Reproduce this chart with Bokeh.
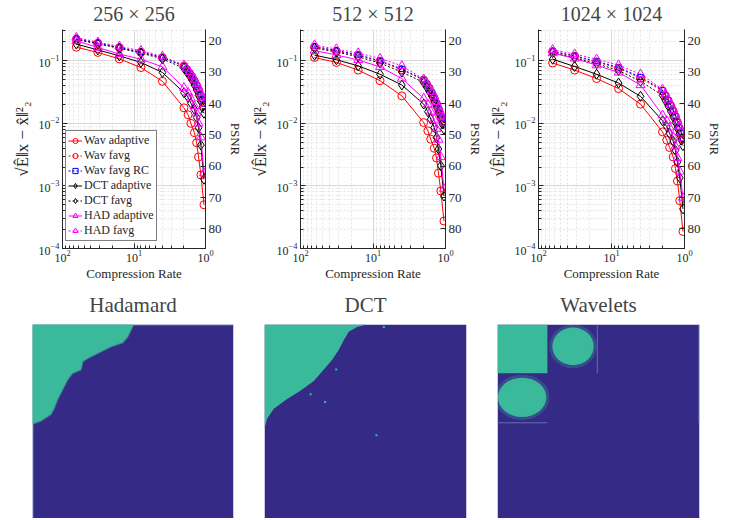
from bokeh.plotting import figure
from bokeh.models import Range1d, LinearAxis, FixedTicker, Legend, LegendItem, LinearScale, Title
from bokeh.layouts import row, column
from bokeh.embed import file_html
from bokeh.resources import INLINE

SERIF = "'Liberation Serif', 'Times New Roman', 'DejaVu Serif', serif"
AX = "#262626"
PURPLE = "#352a86"
TEAL = "#3bb99b"

# ---------------- data ----------------
cr_adaptive = [64, 32, 16, 8, 4, 2, 1.75, 1.6, 1.43, 1.33, 1.25, 1.16, 1.05]
cr_favg = [64, 32, 16, 8, 4, 2, 1.82, 1.67, 1.54, 1.43, 1.33, 1.25, 1.18, 1.11, 1.05]
psnr_ticks = [20, 30, 40, 50, 60, 70, 80]
top_titles = ["256 × 256", "512 × 512", "1024 × 1024"]

wav_adaptive_256 = [0.165, 0.136, 0.107, 0.078, 0.047, 0.0177, 0.0137, 0.0100, 0.0071, 0.0049, 0.0029, 0.0015, 0.0005]
wav_favg_256 = [0.220, 0.190, 0.162, 0.137, 0.112, 0.082, 0.072, 0.063, 0.055, 0.047, 0.040, 0.034, 0.028, 0.023, 0.019]
wav_favg_rc_256 = [0.225, 0.192, 0.163, 0.138, 0.113, 0.083, 0.073, 0.064, 0.056, 0.048, 0.041, 0.035, 0.029, 0.024, 0.0205]
dct_adaptive_256 = [0.185, 0.149, 0.120, 0.094, 0.065, 0.031, 0.026, 0.021, 0.0168, 0.0124, 0.0085, 0.0045, 0.00128]
dct_favg_256 = [0.218, 0.187, 0.158, 0.133, 0.107, 0.076, 0.066, 0.057, 0.049, 0.041, 0.034, 0.028, 0.023, 0.018, 0.0145]
had_adaptive_256 = [0.209, 0.163, 0.128, 0.106, 0.080, 0.037, 0.031, 0.025, 0.019, 0.0145, 0.010, 0.0060, 0.0016]
had_favg_256 = [0.235, 0.198, 0.170, 0.145, 0.118, 0.085, 0.075, 0.066, 0.058, 0.050, 0.043, 0.037, 0.031, 0.026, 0.021]

wav_adaptive_512 = [0.113, 0.094, 0.071, 0.048, 0.0275, 0.0103, 0.0076, 0.0056, 0.0040, 0.0028, 0.0016, 0.00083, 0.000275]
wav_favg_512 = [0.165, 0.142, 0.122, 0.098, 0.072, 0.049, 0.042, 0.036, 0.030, 0.025, 0.0205, 0.017, 0.014, 0.0117, 0.0098]
wav_favg_rc_512 = [0.170, 0.146, 0.125, 0.100, 0.074, 0.050, 0.043, 0.037, 0.031, 0.026, 0.021, 0.0175, 0.0145, 0.012, 0.0100]
dct_adaptive_512 = [0.123, 0.104, 0.083, 0.061, 0.041, 0.0203, 0.0153, 0.0117, 0.0086, 0.0059, 0.0039, 0.0021, 0.00069]
dct_favg_512 = [0.160, 0.138, 0.116, 0.092, 0.066, 0.045, 0.038, 0.032, 0.027, 0.022, 0.018, 0.0148, 0.012, 0.0098, 0.0081]
had_adaptive_512 = [0.145, 0.124, 0.103, 0.080, 0.052, 0.025, 0.020, 0.0155, 0.0115, 0.0082, 0.0055, 0.0029, 0.0009]
had_favg_512 = [0.178, 0.154, 0.133, 0.109, 0.083, 0.051, 0.044, 0.038, 0.032, 0.027, 0.022, 0.018, 0.0150, 0.0125, 0.0103]

wav_adaptive_1024 = [0.092, 0.071, 0.052, 0.036, 0.0203, 0.0073, 0.0054, 0.0041, 0.0029, 0.0019, 0.0012, 0.00058, 0.000187]
wav_favg_1024 = [0.140, 0.118, 0.096, 0.076, 0.053, 0.033, 0.0275, 0.023, 0.019, 0.0157, 0.0128, 0.0104, 0.0084, 0.0069, 0.0056]
wav_favg_rc_1024 = [0.142, 0.120, 0.098, 0.078, 0.055, 0.034, 0.028, 0.0235, 0.0195, 0.016, 0.013, 0.0106, 0.0086, 0.007, 0.0057]
dct_adaptive_1024 = [0.106, 0.081, 0.061, 0.044, 0.027, 0.011, 0.0089, 0.0069, 0.0052, 0.0037, 0.0024, 0.00135, 0.00043]
dct_favg_1024 = [0.135, 0.112, 0.090, 0.070, 0.047, 0.028, 0.023, 0.019, 0.0155, 0.0127, 0.0103, 0.0083, 0.0067, 0.0054, 0.0044]
had_adaptive_1024 = [0.133, 0.109, 0.085, 0.065, 0.041, 0.0135, 0.011, 0.0086, 0.0061, 0.0043, 0.0028, 0.0017, 0.00065]
had_favg_1024 = [0.150, 0.128, 0.106, 0.085, 0.061, 0.035, 0.029, 0.024, 0.020, 0.0165, 0.0135, 0.011, 0.0089, 0.0072, 0.0058]

series_labels = ["Wav adaptive", "Wav favg", "Wav favg RC", "DCT adaptive", "DCT favg", "HAD adaptive", "HAD favg"]

# image masks (normalised image coords, v downward)
img_titles = ["Hadamard", "DCT", "Wavelets"]
had_u = [0, 0.502, 0.489, 0.473, 0.448, 0.39, 0.323, 0.274, 0.249, 0.24, 0.199, 0.174, 0.149, 0.124, 0.108, 0.091, 0.066, 0.041, 0.017, 0]
had_v = [0, 0, 0.028, 0.061, 0.091, 0.111, 0.144, 0.169, 0.186, 0.227, 0.244, 0.277, 0.327, 0.376, 0.418, 0.451, 0.468, 0.484, 0.493, 0.5]
dct_u = [0, 0.508, 0.458, 0.417, 0.393, 0.368, 0.335, 0.294, 0.244, 0.178, 0.112, 0.046, 0.013, 0]
dct_v = [0, 0, 0.012, 0.036, 0.078, 0.127, 0.177, 0.226, 0.284, 0.333, 0.375, 0.424, 0.474, 0.523]
dct_speck_u = [0.355, 0.228, 0.554, 0.591, 0.30]
dct_speck_v = [0.226, 0.35, 0.556, 0.012, 0.39]
wav_block_u = [0.0, 0.247]
wav_block_v = [0.0, 0.245]
wav_blob_u = [0.374, 0.122]
wav_blob_v = [0.110, 0.366]
wav_blob_w = [0.205, 0.240]
wav_blob_h = [0.190, 0.198]
wav_line_u = [[0.494, 0.494], [0.0, 0.247], [0.997, 0.997]]
wav_line_v = [[0.0, 0.245], [0.494, 0.494], [0.0, 0.494]]

IMG_VIS = 0.975


def style_axis(ax, size="12px"):
    ax.axis_line_color = AX
    ax.major_tick_line_color = AX
    ax.minor_tick_line_color = AX
    ax.major_tick_in = 5
    ax.major_tick_out = 0
    ax.minor_tick_in = 3
    ax.minor_tick_out = 0
    ax.major_label_text_font = SERIF
    ax.major_label_text_font_size = size
    ax.major_label_text_color = AX
    ax.axis_label_text_font = SERIF
    ax.axis_label_text_font_size = "13px"
    ax.axis_label_text_font_style = "normal"
    ax.axis_label_text_color = AX


def set_title(p, text, size, spacer):
    # small blank spacer panel between frame and title lifts the title a little
    p.add_layout(Title(text=" ", text_font_size=spacer, standoff=0), "above")
    p.title.text = text
    p.title.align = "center"
    p.title.text_font = SERIF
    p.title.text_font_size = size
    p.title.text_font_style = "normal"
    p.title.standoff = 0


def make_top(i, width, lb, rb, data, legend=False):
    p = figure(width=width, height=290, x_axis_type="log", y_axis_type="log",
               x_range=Range1d(100, 1), y_range=Range1d(1e-4, 10 ** -0.5),
               toolbar_location=None, output_backend="svg",
               min_border_left=lb, min_border_right=rb, min_border_top=29, min_border_bottom=42)
    p.extra_y_ranges = {"psnr": Range1d(86.3, 16.3)}
    p.extra_y_scales = {"psnr": LinearScale()}
    rax = LinearAxis(y_range_name="psnr", ticker=FixedTicker(ticks=psnr_ticks), axis_label="PSNR")
    p.add_layout(rax, "right")
    set_title(p, top_titles[i], "20px", "3px")
    p.outline_line_color = None
    p.xaxis.axis_label = "Compression Rate"
    p.left[0].axis_label = "√Ê‖x − x̂‖²₂"
    for ax in [p.xaxis[0], p.left[0], rax]:
        style_axis(ax, "13px" if ax is rax else "12px")
    p.left[0].axis_label_text_font_size = "17px"
    rax.minor_tick_line_color = None
    p.xaxis.major_label_standoff = 1
    p.xaxis.axis_label_standoff = 1
    p.left[0].major_label_standoff = 3
    p.left[0].axis_label_standoff = 4
    rax.major_label_standoff = 3
    rax.axis_label_standoff = 3
    for g in [p.xgrid[0], p.ygrid[0]]:
        g.grid_line_color = "#d8d8d8"
        g.minor_grid_line_color = "#e4e4e4"
        g.minor_grid_line_dash = "2 2"

    specs = [
        (cr_adaptive, data[0], "red", "circle", 8, "solid"),
        (cr_favg, data[1], "red", "circle", 8, "2 2"),
        (cr_favg, data[2], "blue", "square", 5, "2 2"),
        (cr_adaptive, data[3], "black", "diamond", 10, "solid"),
        (cr_favg, data[4], "black", "diamond", 10, "2 2"),
        (cr_adaptive, data[5], "magenta", "triangle", 9, "solid"),
        (cr_favg, data[6], "magenta", "triangle", 9, "2 2"),
    ]
    items = []
    for (xs, ys, c, m, s, dash), lab in zip(specs, series_labels):
        ln = p.line(xs, ys, line_color=c, line_width=1, line_dash=dash)
        sc = p.scatter(xs, ys, marker=m, size=s, line_color=c, fill_alpha=0, line_width=1)
        items.append(LegendItem(label=lab, renderers=[ln, sc]))
    if legend:
        lg = Legend(items=items, location=(3, 7), border_line_color="black", border_line_width=1,
                    background_fill_color="white", background_fill_alpha=1,
                    padding=2, spacing=0, margin=0, glyph_height=13, glyph_width=14,
                    label_height=13, label_standoff=2, label_text_font=SERIF,
                    label_text_font_size="12px", label_text_line_height=1.0,
                    label_text_color=AX)
        p.add_layout(lg)
    return p


def make_img(i, width, lb, rb):
    p = figure(width=width, height=228, x_range=Range1d(0, 1), y_range=Range1d(IMG_VIS, 0),
               toolbar_location=None, output_backend="svg", x_axis_location=None,
               y_axis_location=None, min_border_left=lb, min_border_right=rb,
               min_border_top=31, min_border_bottom=0)
    p.grid.visible = False
    p.outline_line_color = None
    set_title(p, img_titles[i], "21px", "5px")
    p.quad(left=[0], right=[1], top=[0], bottom=[1], fill_color=PURPLE, line_color=None)
    if i == 0:
        p.patch(had_u, had_v, fill_color=TEAL, line_color=TEAL, line_alpha=0.5, line_width=2)
        p.line([0.5, 1.0], [0.003, 0.003], line_color=TEAL, line_width=1, line_alpha=0.6)
        p.line([0.003, 0.003], [0.5, 1.0], line_color=TEAL, line_width=1, line_alpha=0.6)
    elif i == 1:
        p.patch(dct_u, dct_v, fill_color=TEAL, line_color=None)
        p.scatter(dct_speck_u, dct_speck_v, marker="square", size=2, fill_color=TEAL, line_color=None)
    else:
        p.quad(left=[wav_block_u[0]], right=[wav_block_u[1]], top=[wav_block_v[0]],
               bottom=[wav_block_v[1]], fill_color=TEAL, line_color=None)
        p.ellipse(wav_blob_u, wav_blob_v, width=wav_blob_w, height=wav_blob_h,
                  fill_color=TEAL, line_color=TEAL, line_alpha=0.25, line_width=6)
        p.multi_line(wav_line_u, wav_line_v, line_color="#5d73a6", line_width=1)
    return p


p1 = make_top(0, 245, 62, 38, [wav_adaptive_256, wav_favg_256, wav_favg_rc_256, dct_adaptive_256,
                                dct_favg_256, had_adaptive_256, had_favg_256], legend=True)
p2 = make_top(1, 240, 55, 39, [wav_adaptive_512, wav_favg_512, wav_favg_rc_512, dct_adaptive_512,
                                dct_favg_512, had_adaptive_512, had_favg_512])
p3 = make_top(2, 246, 53, 47, [wav_adaptive_1024, wav_favg_1024, wav_favg_rc_1024, dct_adaptive_1024,
                                dct_favg_1024, had_adaptive_1024, had_favg_1024])
q1 = make_img(0, 245, 32, 12)
q2 = make_img(1, 240, 19, 19)
q3 = make_img(2, 246, 12, 32)

layout = column(row(p1, p2, p3), row(q1, q2, q3))
open("out.html", "w").write(file_html(layout, INLINE))
